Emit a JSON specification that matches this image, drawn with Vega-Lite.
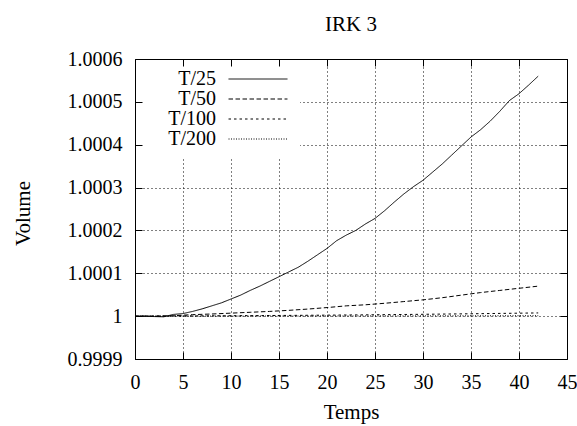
{
  "$schema": "https://vega.github.io/schema/vega-lite/v6.json",
  "width": 432,
  "height": 300,
  "autosize": {"type": "none"},
  "padding": {"left": 135, "top": 59, "right": 10, "bottom": 67},
  "background": "white",
  "config": {
    "view": {"stroke": null},
    "font": "Liberation Serif",
    "axis": {"labelFont": "Liberation Serif", "titleFont": "Liberation Serif", "labelColor": "black", "titleColor": "black", "titleFontWeight": "normal"}
  },
  "title": {"text": "IRK 3", "font": "Liberation Serif", "fontSize": 21, "fontWeight": "normal", "color": "black", "offset": 14},
  "data": {"values": [
    {"s": "T/25", "t": 0, "v": 1.0},
    {"s": "T/25", "t": 1, "v": 1.0},
    {"s": "T/25", "t": 2, "v": 0.999999},
    {"s": "T/25", "t": 3, "v": 0.9999985},
    {"s": "T/25", "t": 4, "v": 1.000004},
    {"s": "T/25", "t": 5, "v": 1.000006},
    {"s": "T/25", "t": 6, "v": 1.000011},
    {"s": "T/25", "t": 7, "v": 1.000017},
    {"s": "T/25", "t": 8, "v": 1.000024},
    {"s": "T/25", "t": 9, "v": 1.000031},
    {"s": "T/25", "t": 10, "v": 1.00004},
    {"s": "T/25", "t": 11, "v": 1.000049},
    {"s": "T/25", "t": 12, "v": 1.00006},
    {"s": "T/25", "t": 13, "v": 1.00007},
    {"s": "T/25", "t": 14, "v": 1.000081},
    {"s": "T/25", "t": 15, "v": 1.000092},
    {"s": "T/25", "t": 16, "v": 1.000103},
    {"s": "T/25", "t": 17, "v": 1.000114},
    {"s": "T/25", "t": 18, "v": 1.000128},
    {"s": "T/25", "t": 19, "v": 1.000143},
    {"s": "T/25", "t": 20, "v": 1.000158},
    {"s": "T/25", "t": 21, "v": 1.000176},
    {"s": "T/25", "t": 22, "v": 1.000189},
    {"s": "T/25", "t": 23, "v": 1.0002},
    {"s": "T/25", "t": 24, "v": 1.000215},
    {"s": "T/25", "t": 25, "v": 1.000228},
    {"s": "T/25", "t": 26, "v": 1.000246},
    {"s": "T/25", "t": 27, "v": 1.000266},
    {"s": "T/25", "t": 28, "v": 1.000285},
    {"s": "T/25", "t": 29, "v": 1.000302},
    {"s": "T/25", "t": 30, "v": 1.000317},
    {"s": "T/25", "t": 31, "v": 1.000336},
    {"s": "T/25", "t": 32, "v": 1.000355},
    {"s": "T/25", "t": 33, "v": 1.000376},
    {"s": "T/25", "t": 34, "v": 1.000397},
    {"s": "T/25", "t": 35, "v": 1.000418},
    {"s": "T/25", "t": 36, "v": 1.000435},
    {"s": "T/25", "t": 37, "v": 1.000455},
    {"s": "T/25", "t": 38, "v": 1.000478},
    {"s": "T/25", "t": 39, "v": 1.000503},
    {"s": "T/25", "t": 40, "v": 1.000519},
    {"s": "T/25", "t": 41, "v": 1.000539},
    {"s": "T/25", "t": 42, "v": 1.00056},
    {"s": "T/50", "t": 0, "v": 1.0},
    {"s": "T/50", "t": 2, "v": 1.0},
    {"s": "T/50", "t": 4, "v": 1.000001},
    {"s": "T/50", "t": 6, "v": 1.0000035},
    {"s": "T/50", "t": 8, "v": 1.000005},
    {"s": "T/50", "t": 10, "v": 1.000007},
    {"s": "T/50", "t": 12, "v": 1.000009},
    {"s": "T/50", "t": 14, "v": 1.000011},
    {"s": "T/50", "t": 16, "v": 1.0000135},
    {"s": "T/50", "t": 18, "v": 1.0000165},
    {"s": "T/50", "t": 20, "v": 1.00002},
    {"s": "T/50", "t": 22, "v": 1.000024},
    {"s": "T/50", "t": 24, "v": 1.0000265},
    {"s": "T/50", "t": 26, "v": 1.00003},
    {"s": "T/50", "t": 28, "v": 1.000034},
    {"s": "T/50", "t": 30, "v": 1.000038},
    {"s": "T/50", "t": 32, "v": 1.000043},
    {"s": "T/50", "t": 34, "v": 1.000049},
    {"s": "T/50", "t": 36, "v": 1.000055},
    {"s": "T/50", "t": 38, "v": 1.00006},
    {"s": "T/50", "t": 40, "v": 1.000065},
    {"s": "T/50", "t": 42, "v": 1.00007},
    {"s": "T/100", "t": 0, "v": 1.0},
    {"s": "T/100", "t": 6, "v": 1.0000005},
    {"s": "T/100", "t": 12, "v": 1.0000012},
    {"s": "T/100", "t": 18, "v": 1.000002},
    {"s": "T/100", "t": 24, "v": 1.000003},
    {"s": "T/100", "t": 30, "v": 1.0000043},
    {"s": "T/100", "t": 36, "v": 1.0000058},
    {"s": "T/100", "t": 42, "v": 1.0000075},
    {"s": "T/200", "t": 0, "v": 1.0},
    {"s": "T/200", "t": 14, "v": 1.0000002},
    {"s": "T/200", "t": 28, "v": 1.0000005},
    {"s": "T/200", "t": 42, "v": 1.000001}
  ]},
  "resolve": {"axis": {"x": "independent", "y": "independent"}},
  "layer": [
    {
      "mark": {"type": "line", "color": "black", "strokeWidth": 1, "interpolate": "linear"},
      "encoding": {
        "x": {"field": "t", "type": "quantitative",
          "scale": {"domain": [0, 45], "nice": false, "zero": false},
          "axis": {"orient": "bottom", "values": [0, 5, 10, 15, 20, 25, 30, 35, 40, 45], "grid": true, "gridDash": [1, 3], "gridColor": "black", "gridOpacity": 1, "ticks": false, "domain": false, "labelFontSize": 20, "labelPadding": 13, "labelFlush": false, "title": "Temps", "titleFontSize": 21, "titleBaseline": "alphabetic", "titleY": 59, "zindex": 0}},
        "y": {"field": "v", "type": "quantitative",
          "scale": {"domain": [0.9999, 1.0006], "nice": false, "zero": false},
          "axis": {"orient": "left", "values": [0.9999, 1, 1.0001, 1.0002, 1.0003, 1.0004, 1.0005, 1.0006], "format": ".5~g", "grid": true, "gridDash": [1, 3], "gridColor": "black", "gridOpacity": 1, "ticks": false, "domain": false, "labelFontSize": 20, "labelPadding": 13, "labelFlush": false, "title": "Volume", "titleFontSize": 21, "titleBaseline": "middle", "titleX": -112, "titleY": 154, "titleAngle": -90, "zindex": 0}},
        "strokeDash": {"field": "s", "type": "nominal",
          "scale": {"domain": ["T/25", "T/50", "T/100", "T/200"], "range": [[1, 0], [4.5, 2.5], [2.5, 3], [1, 1.5]]},
          "legend": {"orient": "none", "legendX": 0, "legendY": 0, "title": null, "symbolType": "M-4.21,0H4.21", "symbolSize": 196, "symbolOffset": 103, "symbolStrokeWidth": 1, "symbolStrokeColor": "black", "symbolFillColor": "transparent", "labelFont": "Liberation Serif", "labelFontSize": 20, "labelColor": "black", "labelAlign": "right", "labelBaseline": "middle", "labelOffset": -52, "rowPadding": 0, "fillColor": "white", "padding": 10, "zindex": 0}}
      }
    },
    {
      "mark": {"type": "point", "opacity": 0},
      "encoding": {
        "x": {"field": "t", "type": "quantitative",
          "axis": {"orient": "top", "values": [0, 5, 10, 15, 20, 25, 30, 35, 40, 45], "grid": false, "labels": false, "ticks": true, "tickSize": -7, "tickColor": "black", "domain": true, "domainColor": "black", "title": null, "zindex": 1}},
        "y": {"field": "v", "type": "quantitative",
          "axis": {"orient": "right", "values": [0.9999, 1, 1.0001, 1.0002, 1.0003, 1.0004, 1.0005, 1.0006], "grid": false, "labels": false, "ticks": true, "tickSize": -7, "tickColor": "black", "domain": true, "domainColor": "black", "title": null, "zindex": 1}}
      }
    },
    {
      "mark": {"type": "point", "opacity": 0},
      "encoding": {
        "x": {"field": "t", "type": "quantitative",
          "axis": {"orient": "bottom", "values": [0, 5, 10, 15, 20, 25, 30, 35, 40, 45], "grid": false, "labels": false, "ticks": true, "tickSize": -7, "tickColor": "black", "domain": true, "domainColor": "black", "title": null, "zindex": 1}},
        "y": {"field": "v", "type": "quantitative",
          "axis": {"orient": "left", "values": [0.9999, 1, 1.0001, 1.0002, 1.0003, 1.0004, 1.0005, 1.0006], "grid": false, "labels": false, "ticks": true, "tickSize": -7, "tickColor": "black", "domain": true, "domainColor": "black", "title": null, "zindex": 1}}
      }
    }
  ]
}
